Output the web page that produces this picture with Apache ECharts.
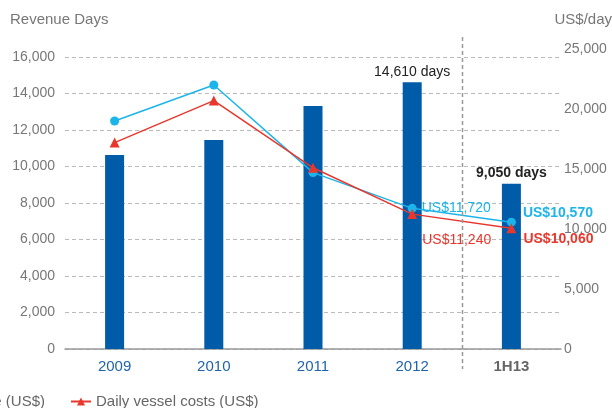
<!DOCTYPE html>
<html>
<head>
<meta charset="utf-8">
<script src="https://cdn.jsdelivr.net/npm/echarts@6/dist/echarts.min.js"></script>
<style>
  html, body { margin: 0; padding: 0; background: #fff; }
  #main { width: 612px; height: 408px; }
</style>
</head>
<body>
<div id="main"></div>
<script>
var categories = ['2009', '2010', '2011', '2012', '1H13'];
var revenueDays = [10630, 11450, 13320, 14610, 9050];
var dailyRevenue = [19000, 22000, 14700, 11720, 10570];
var dailyCosts = [17200, 20700, 15100, 11240, 10060];
var leftTicks = { max: 16000, interval: 2000 };
var rightTicks = { max: 25000, interval: 5000 };

var font = 'Liberation Sans, Arial, sans-serif';
var blue = '#1db4ea', red = '#e8372c', barBlue = '#005ba9';

var myChart = echarts.init(document.getElementById('main'));

function fmt(v) { return 'US$' + v.toLocaleString('en-US'); }
function days(p) { return p.value.toLocaleString('en-US') + ' days'; }

var barData = revenueDays.map(function (v, i) {
    var item = { value: v };
    if (i === 3) item.label = { show: true, position: 'top', distance: 3, color: '#222', fontSize: 14, formatter: days };
    if (i === 4) item.label = { show: true, position: 'top', distance: 4, color: '#222', fontSize: 14, fontWeight: 'bold', formatter: days };
    return item;
});

var revData = dailyRevenue.map(function (v, i) {
    var item = { value: v };
    if (i === 3) item.label = { show: true, position: 'right', offset: [0, 0], color: blue, fontSize: 14 };
    if (i === 4) item.label = { show: true, position: 'right', offset: [2, -9], color: blue, fontSize: 14, fontWeight: 'bold' };
    return item;
});

var costData = dailyCosts.map(function (v, i) {
    var item = { value: v };
    if (i === 3) item.label = { show: true, position: 'right', offset: [0, 26], color: red, fontSize: 14 };
    if (i === 4) item.label = { show: true, position: 'right', offset: [2, 11], color: red, fontSize: 14, fontWeight: 'bold' };
    return item;
});

var xData = categories.map(function (c) {
    if (c === '1H13') return { value: c, textStyle: { color: '#666', fontWeight: 'bold' } };
    return { value: c, textStyle: { color: '#1f63ad' } };
});

var option = {
    animation: false,
    textStyle: { fontFamily: font },
    grid: [
        { left: 65, right: 51, top: 57, bottom: 59 },
        { left: 65, right: 51, top: 49, bottom: 59 }
    ],
    legend: [
        { data: ['Daily charter revenue (US$)'], right: 562, top: 389, itemWidth: 20, itemHeight: 10,
          textStyle: { color: '#666', fontSize: 15, fontFamily: font } },
        { data: ['Daily vessel costs (US$)'], left: 65, top: 389, itemWidth: 20, itemHeight: 10,
          textStyle: { color: '#666', fontSize: 15, fontFamily: font } }
    ],
    graphic: [
        { type: 'text', left: 10, top: 12, style: { text: 'Revenue Days', fill: '#777', font: '15px ' + font } },
        { type: 'text', right: 0, top: 12, style: { text: 'US$/day', fill: '#777', font: '15px ' + font } }
    ],
    xAxis: [
        { type: 'category', gridIndex: 0, data: xData,
          axisLine: { lineStyle: { color: '#999', width: 1.5 } }, axisTick: { show: false },
          axisLabel: { fontSize: 15, margin: 10 } },
        { type: 'category', gridIndex: 1, data: categories, show: false }
    ],
    yAxis: [
        { type: 'value', gridIndex: 0, min: 0, max: leftTicks.max, interval: leftTicks.interval,
          axisLine: { show: false }, axisTick: { show: false },
          axisLabel: { color: '#777', fontSize: 14, margin: 10,
              formatter: function (v) { return v.toLocaleString('en-US'); } },
          splitLine: { lineStyle: { color: '#bbb', type: [4, 3] } } },
        { type: 'value', gridIndex: 1, position: 'right', min: 0, max: rightTicks.max, interval: rightTicks.interval,
          axisLine: { show: false }, axisTick: { show: false }, splitLine: { show: false },
          axisLabel: { color: '#777', fontSize: 14, margin: 3,
              formatter: function (v) { return v.toLocaleString('en-US'); } } }
    ],
    series: [
        { name: 'Revenue Days', type: 'bar', xAxisIndex: 0, yAxisIndex: 0, data: barData,
          barWidth: 19, itemStyle: { color: barBlue } },
        { name: 'Daily charter revenue (US$)', type: 'line', xAxisIndex: 1, yAxisIndex: 1, data: revData,
          symbol: 'circle', symbolSize: 9, itemStyle: { color: blue }, lineStyle: { color: blue, width: 1.5 },
          label: { formatter: function (p) { return fmt(p.value); } }, z: 3 },
        { name: 'Daily vessel costs (US$)', type: 'line', xAxisIndex: 1, yAxisIndex: 1, data: costData,
          symbol: 'triangle', symbolSize: 10, itemStyle: { color: red }, lineStyle: { color: red, width: 1.5 },
          label: { formatter: function (p) { return fmt(p.value); } }, z: 4 }
    ]
};
myChart.setOption(option);

// dashed separator between 2012 and 1H13
var xa = myChart.convertToPixel({ xAxisIndex: 0 }, '2012');
var xb = myChart.convertToPixel({ xAxisIndex: 0 }, '1H13');
var sx = Math.round((xa + xb) / 2) + 0.5;
var yTop = myChart.convertToPixel({ yAxisIndex: 0 }, leftTicks.max) - 20;
var yBot = myChart.convertToPixel({ yAxisIndex: 0 }, 0) + 20;
myChart.setOption({
    graphic: option.graphic.concat([{
        type: 'line', shape: { x1: sx, y1: yTop, x2: sx, y2: yBot },
        style: { stroke: '#999', lineWidth: 1.5, lineDash: [4, 3] }, z: 10
    }])
});
</script>
</body>
</html>
